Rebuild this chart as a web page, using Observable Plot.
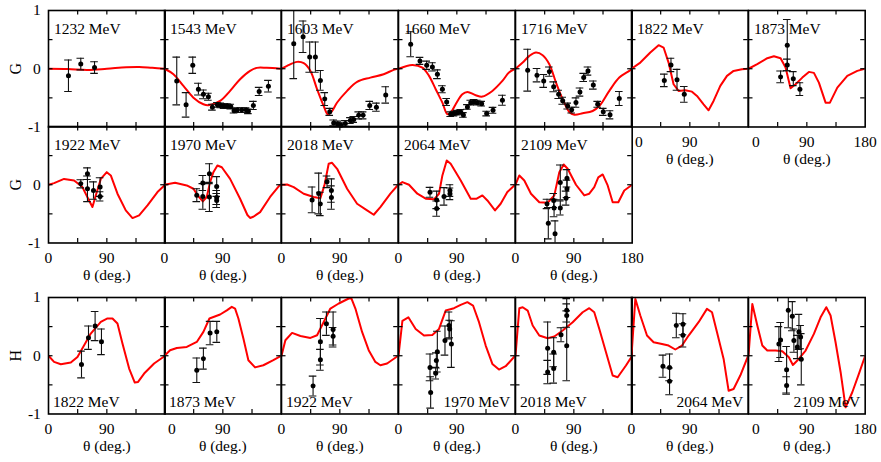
<!DOCTYPE html>
<html><head><meta charset="utf-8">
<script src="https://cdn.jsdelivr.net/npm/d3@7"></script>
<script src="https://cdn.jsdelivr.net/npm/@observablehq/plot@0.6"></script>
<style>
body{margin:0;background:#fff;}
#chart{position:relative;width:881px;height:462px;overflow:hidden;background:#fff;}
#chart svg, #chart svg text{font-family:"Liberation Serif", serif !important;}
</style></head><body><div id="chart"></div>
<script>
// ---- G observable, model curves [theta, G] and data [theta, G, error] ----
const g1232Curve = [[0,0],[30,-0.005],[60,-0.02],[90,0],[120,0.025],[140,0.03],[160,0.015],[180,0]];
const g1232Data = [[30.8,-0.12,0.27],[49.8,0.08,0.1],[71,0.02,0.1]];

const g1543Curve = [[0,0],[13.8,-0.094],[29.2,-0.295],[44.6,-0.496],[60,-0.61],[67.7,-0.627],[85.8,-0.553],[101.2,-0.381],[116.6,-0.18],[132,-0.037],[142.4,0.015],[157.8,0.015],[180,0]];
const g1543Data = [[18.9,-0.21,0.41],[33.3,-0.62,0.21],[43.6,0.06,0.14],[52.3,-0.35,0.1],[60,-0.44,0.075],[67.7,-0.48,0.06],[73.9,-0.66,0.05],[81.6,-0.62,0.04],[86.8,-0.63,0.04],[91.9,-0.64,0.04],[97,-0.64,0.04],[102.2,-0.65,0.04],[107.3,-0.72,0.04],[112.4,-0.71,0.04],[119.2,-0.71,0.04],[125.9,-0.71,0.04],[129.4,-0.73,0.04],[137.1,-0.63,0.07],[146,-0.39,0.07],[160.3,-0.3,0.1]];

const g1603Curve = [[0,0],[8.6,0.05],[24,0.118],[34.3,0.095],[44.6,-0.037],[54.9,-0.352],[65.1,-0.64],[71.3,-0.78],[78,-0.725],[85.8,-0.58],[101.2,-0.38],[116.6,-0.225],[137.1,-0.152],[157.6,-0.094],[173,-0.02],[180,0]];
const g1603Data = [[18.9,0.43,0.6],[33.3,0.55,0.27],[43.5,0.2,0.26],[52.3,0.2,0.26],[60,-0.2,0.17],[66.7,-0.52,0.11],[74.4,-0.74,0.06],[80.5,-0.93,0.05],[86.7,-0.95,0.05],[91.9,-0.97,0.04],[98.5,-0.94,0.05],[106.3,-0.89,0.05],[111.4,-0.87,0.05],[119.1,-0.8,0.06],[125.9,-0.8,0.06],[136.1,-0.63,0.07],[146.4,-0.66,0.07],[160.8,-0.45,0.14]];

const g1660Curve = [[0,0],[21.4,0.066],[36.9,0.02],[47.1,-0.123],[57.4,-0.352],[67.7,-0.582],[75.4,-0.78],[80.5,-0.754],[88.2,-0.61],[98.5,-0.438],[106.3,-0.398],[119.1,-0.455],[129.4,-0.478],[144.8,-0.381],[160.3,-0.209],[170.4,-0.066],[180,0]];
const g1660Data = [[18.8,0.42,0.215],[33.2,0.135,0.06],[43.5,0.06,0.07],[52.3,0.032,0.07],[60,-0.094,0.075],[67.7,-0.352,0.06],[74.3,-0.57,0.06],[80.5,-0.78,0.04],[85.6,-0.77,0.04],[90.8,-0.754,0.04],[96,-0.742,0.04],[100.1,-0.794,0.04],[106.3,-0.656,0.04],[111.4,-0.582,0.04],[116.5,-0.57,0.04],[121.7,-0.582,0.04],[128.3,-0.6,0.04],[136,-0.77,0.04],[145.8,-0.713,0.05],[160.3,-0.541,0.085]];

const g1716Curve = [[0,0],[11.1,0.106],[21.4,0.221],[31.6,0.278],[41.9,0.233],[52.2,0.078],[62.5,-0.238],[72.8,-0.524],[83,-0.742],[90.7,-0.788],[103.6,-0.765],[119,-0.725],[129.3,-0.64],[144.7,-0.38],[160.1,-0.152],[175.5,-0.037],[180,0]];
const g1716Data = [[18.8,-0.025,0.36],[33.2,-0.11,0.115],[43.5,-0.21,0.11],[52.2,-0.05,0.08],[58.9,-0.31,0.085],[66.6,-0.44,0.07],[72.8,-0.55,0.06],[80.5,-0.64,0.05],[86.7,-0.71,0.05],[93.3,-0.58,0.08],[99.5,-0.4,0.07],[105.2,-0.15,0.07],[111.8,-0.04,0.07],[120,-0.28,0.07],[126.8,-0.61,0.05],[135.4,-0.74,0.06],[145.8,-0.79,0.07],[160.1,-0.51,0.12]];

const g1822Curve = [[0,0],[13.6,0.106],[29,0.278],[41.8,0.405],[49.5,0.364],[57.2,0.106],[64.9,-0.266],[72.6,-0.381],[83,-0.37],[93.3,-0.393],[101,-0.467],[111.2,-0.61],[118.9,-0.713],[126.6,-0.553],[137,-0.295],[147.3,-0.123],[157.5,-0.037],[170.4,-0.008],[180,0]];
const g1822Data = [[50.6,-0.2,0.107],[60.9,0.066,0.115],[70.2,-0.19,0.18],[81.4,-0.44,0.135]];

const g1873Curve = [[0,0],[13.5,0.078],[29,0.181],[39.2,0.215],[49.5,0.181],[57.2,0.02],[64.9,-0.335],[72.6,-0.266],[83,-0.152],[93.2,-0.054],[100.9,-0.071],[108.6,-0.238],[118.9,-0.582],[125.6,-0.582],[137,-0.324],[152.4,-0.123],[167.8,-0.037],[180,0]];
const g1873Data = [[49.5,-0.14,0.1],[59.8,0.405,0.44],[59.8,0.066,0.1],[69.1,-0.17,0.12],[79.3,-0.35,0.11]];

const g1922Curve = [[0,0],[8.6,0.028],[24,0.1],[39.5,0.074],[52.3,-0.04],[62.6,-0.27],[67.8,-0.383],[72.9,-0.183],[80.7,0.1],[89.9,0.216],[96.1,0.16],[106.4,-0.154],[119.2,-0.44],[129.6,-0.572],[139.8,-0.526],[152.7,-0.355],[168.1,-0.126],[180,0]];
const g1922Data = [[49.8,0.017,0.07],[60.1,0.19,0.1],[60.1,-0.07,0.22],[69.4,-0.1,0.15],[79.6,-0.04,0.16],[79.6,-0.2,0.08]];

const g1970Curve = [[0,0],[16.3,0.034],[34.3,-0.012],[44.6,-0.069],[52.3,-0.2],[59.1,-0.286],[65.2,-0.21],[70.3,0.045],[75.4,0.216],[81.6,0.33],[88.4,0.3],[101.2,0.1],[116.6,-0.24],[127.9,-0.52],[132,-0.57],[137,-0.55],[147.5,-0.47],[162.9,-0.21],[176.8,-0.02],[180,0]];
const g1970Data = [[49.8,-0.18,0.11],[59.1,0.03,0.13],[59.1,-0.2,0.22],[69.3,0.19,0.17],[69.3,-0.21,0.25],[80.5,-0.03,0.17],[80.5,-0.22,0.12],[80.5,-0.27,0.12]];

const g2018Curve = [[0,0],[8.6,0.005],[18.8,-0.04],[34.2,-0.154],[49.7,-0.21],[60,-0.23],[66.2,-0.01],[72.8,0.36],[78,0.377],[85.8,0.274],[101.2,-0.069],[116.6,-0.326],[132,-0.44],[142.3,-0.515],[152.5,-0.384],[168,-0.154],[180,0]];
const g2018Data = [[47.2,-0.26,0.22],[57.4,-0.15,0.35],[59.9,-0.33,0.2],[70.2,0.05,0.1],[77,-0.1,0.2],[77,-0.22,0.2]];

const g2064Curve = [[0,0],[6,0.045],[16.2,0],[29.1,-0.154],[42,-0.24],[54.8,-0.25],[62.5,-0.154],[67.7,0.16],[74.4,0.417],[80.5,0.36],[96,0.074],[111.4,-0.24],[120.6,-0.24],[129.4,-0.183],[137.1,-0.27],[148.9,-0.44],[157.6,-0.326],[167.9,-0.126],[180,0]];
const g2064Data = [[48.6,-0.13,0.085],[58.9,-0.26,0.15],[58.9,-0.41,0.13],[70.2,-0.2,0.15],[79.4,-0.1,0.1],[79.4,-0.155,0.1]];

const g2109Curve = [[0,0],[5.9,0.16],[13.6,0.074],[23.9,-0.154],[36.7,-0.3],[49.6,-0.309],[59.9,-0.183],[67.6,0.216],[74.3,0.348],[80.5,0.274],[93.3,0],[106.1,-0.183],[113.8,-0.154],[121.5,-0.04],[127.7,0.126],[134.5,0.177],[142.2,-0.012],[149.9,-0.3],[158.6,-0.3],[167.8,-0.098],[180,0]];
const g2109Data = [[48.6,-0.33,0.08],[50.6,-0.66,0.27],[58.9,-0.27,0.12],[59.5,-0.4,0.15],[61,-0.84,0.22],[69.1,0.04,0.3],[69.1,-0.4,0.12],[78,-0.23,0.12],[79.4,-0.07,0.15],[79.4,0.11,0.15]];

// ---- H observable ----
const h1822Curve = [[0,0],[8.6,-0.106],[19,-0.146],[34.4,-0.117],[44.7,-0.02],[55,0.18],[65.2,0.38],[80.7,0.58],[91,0.64],[98.7,0.64],[106.4,0.553],[114.1,0.21],[124.4,-0.22],[133.1,-0.46],[138.2,-0.45],[147.5,-0.306],[162.9,-0.134],[180,0]];
const h1822Data = [[50.9,-0.15,0.23],[61.7,0.31,0.2],[71.9,0.51,0.25],[81.7,0.24,0.22]];

const h1873Curve = [[0,0],[8.6,0.095],[19,0.134],[34.4,0.151],[49.8,0.237],[60,0.409],[69.3,0.64],[85.8,0.708],[96.1,0.78],[103.8,0.84],[108.9,0.81],[114,0.64],[121.7,0.295],[129.4,-0.077],[139.7,-0.2],[152.5,-0.163],[167.9,-0.077],[180,0]];
const h1873Data = [[49.8,-0.25,0.21],[60,-0.05,0.18],[70.3,0.39,0.2],[80.7,0.41,0.18]];

const h1922Curve = [[0,0],[6,0.266],[16.3,0.392],[29.2,0.34],[44.6,0.306],[54.9,0.352],[65.1,0.58],[75.4,0.81],[88.3,0.897],[103.7,0.983],[107.8,0.983],[114,0.81],[124.3,0.409],[134.5,0.095],[144.8,-0.106],[152.5,-0.163],[162.9,-0.134],[180,0]];
const h1922Data = [[48.7,-0.52,0.17],[60,-0.07,0.18],[60,0.24,0.4],[69.3,0.55,0.2],[79.6,0.45,0.3],[79.6,0.335,0.15]];

const h1970Curve = [[0,0],[6,0.6],[15.2,0.66],[26.5,0.46],[39.3,0.346],[52.2,0.357],[62.5,0.46],[72.8,0.776],[85.6,0.816],[95.9,0.873],[106.2,0.92],[115,0.862],[124.2,0.576],[134.5,0.175],[144.8,-0.14],[155,-0.237],[165.3,-0.18],[180,0]];
const h1970Data = [[48.6,-0.2,0.23],[49.6,-0.63,0.27],[57.4,-0.3,0.1],[58.4,-0.08,0.13],[59.9,0.07,0.35],[71.7,0.26,0.25],[77.9,0.52,0.23],[79,0.46,0.15],[81.6,0.2,0.4]];

const h2018Curve = [[0,0],[5.9,0.816],[11.1,0.833],[18.8,0.776],[26.5,0.519],[36.7,0.347],[49.6,0.3],[59.9,0.33],[72.8,0.433],[88.2,0.576],[103.6,0.747],[113.8,0.816],[121.5,0.747],[129.3,0.46],[139.6,0.06],[149.9,-0.34],[157.6,-0.37],[170.4,-0.168],[180,0]];
const h2018Data = [[49.6,0.13,0.45],[49.6,-0.28,0.2],[58.9,0.06,0.25],[58.9,-0.22,0.25],[70.2,0.36,0.12],[79,0.69,0.2],[79,0.78,0.2],[79,0.17,0.6]];

const h2064Curve = [[0,0],[5.9,0.976],[13.6,0.69],[23.9,0.347],[34.1,0.232],[47,0.203],[57.2,0.175],[67.6,0.107],[77.9,0.175],[88.1,0.347],[103.5,0.576],[116.4,0.805],[124.2,0.747],[131.9,0.404],[142.1,-0.055],[149.8,-0.6],[157.5,-0.57],[167.8,-0.34],[180,0]];
const h2064Data = [[48.5,-0.18,0.19],[58.7,-0.2,0.23],[58.7,-0.44,0.23],[69.1,0.52,0.21],[79.4,0.54,0.18],[79.4,0.35,0.2]];

const h2109Curve = [[0,0],[5.9,0.89],[13.6,0.519],[21.3,0.175],[29,0.089],[41.8,0.089],[52.1,0.077],[62.3,-0.026],[68.5,-0.158],[75.3,-0.083],[88.1,0.089],[100.9,0.375],[111.2,0.66],[120,0.833],[126.6,0.69],[134.3,0.232],[142.1,-0.283],[149.8,-0.885],[160.1,-0.627],[170.3,-0.312],[180,0]];
const h2109Data = [[46.9,0.2,0.3],[49.5,0.27,0.3],[58.8,-0.24,0.4],[58.8,-0.51,0.15],[61.4,0.78,0.3],[67.6,0.68,0.25],[70,0.26,0.2],[75.3,0.15,0.2],[77.8,0.41,0.3],[80.4,0.32,0.2],[81.4,-0.06,0.44]];

// ---- labels ----
const row1Energies = ["1232 MeV","1543 MeV","1603 MeV","1660 MeV","1716 MeV","1822 MeV","1873 MeV"];
const row2Energies = ["1922 MeV","1970 MeV","2018 MeV","2064 MeV","2109 MeV"];
const row3Energies = ["1822 MeV","1873 MeV","1922 MeV","1970 MeV","2018 MeV","2064 MeV","2109 MeV"];
const yTicksFull = [1, 0, -1];
const yTicksLower = [0, -1];
const xTicksInner = [0, 90];
const xTicksLast = [0, 90, 180];
const xMinor = [45, 90, 135];
const yMinor = [-0.5, 0, 0.5];
const xTitle = "θ (deg.)";

// ---- layout ----
const FONT = "Liberation Serif";
const FS = 15.5;
const PW = 116.7, PH = 116.5;
const ML = 50, MR = 3, MT = 3, MB = 48;
const colLeft = i => 47.7 + PW * i;
const rowTop = [9.7, 126.2, 297.3];

const row1Curves = [g1232Curve,g1543Curve,g1603Curve,g1660Curve,g1716Curve,g1822Curve,g1873Curve];
const row1Data = [g1232Data,g1543Data,g1603Data,g1660Data,g1716Data,g1822Data,g1873Data];
const row2Curves = [g1922Curve,g1970Curve,g2018Curve,g2064Curve,g2109Curve];
const row2Data = [g1922Data,g1970Data,g2018Data,g2064Data,g2109Data];
const row3Curves = [h1822Curve,h1873Curve,h1922Curve,h1970Curve,h2018Curve,h2064Curve,h2109Curve];
const row3Data = [h1822Data,h1873Data,h1922Data,h1970Data,h2018Data,h2064Data,h2109Data];

const panels = [];
row1Energies.forEach((e, i) => panels.push({
  row: 0, col: i, label: e, curve: row1Curves[i], data: row1Data[i],
  yTicks: i === 0 ? yTicksFull : null, axisName: i === 0 ? "G" : null,
  xTicks: i === 5 ? xTicksInner : i === 6 ? xTicksLast : null, zeroShift: 7.5,
  labelPos: "top-left", curveType: i < 5 ? "catmull-rom" : "linear"
}));
row2Energies.forEach((e, i) => panels.push({
  row: 1, col: i, label: e, curve: row2Curves[i], data: row2Data[i],
  yTicks: i === 0 ? yTicksLower : null, axisName: i === 0 ? "G" : null,
  xTicks: i === 4 ? xTicksLast : xTicksInner, zeroShift: 0,
  labelPos: "top-left", curveType: "linear"
}));
row3Energies.forEach((e, i) => panels.push({
  row: 2, col: i, label: e, curve: row3Curves[i], data: row3Data[i],
  yTicks: i === 0 ? yTicksFull : null, axisName: i === 0 ? "H" : null,
  xTicks: i === 6 ? xTicksLast : xTicksInner, zeroShift: (i === 1 || i === 6) ? 7.5 : 0,
  labelPos: (i === 3 || i === 5 || i === 6) ? "bottom-right" : "bottom-left", curveType: "linear"
}));

const chart = document.getElementById("chart");
const txt = {fontFamily: FONT, fontSize: FS, fill: "black"};

for (const p of panels) {
  const marks = [
    Plot.line(p.curve, {x: d => d[0], y: d => d[1], stroke: "#ff0000", strokeWidth: 2, curve: p.curveType, clip: true}),
    Plot.ruleX(p.data, {x: d => d[0], y1: d => d[1] - d[2], y2: d => d[1] + d[2], stroke: "#111", strokeWidth: 1.1, clip: true}),
    Plot.ruleY(p.data, {y: d => d[1] + d[2], x1: d => d[0], x2: d => d[0], insetLeft: -3.8, insetRight: -3.8, stroke: "#111", strokeWidth: 1.1, clip: true}),
    Plot.ruleY(p.data, {y: d => d[1] - d[2], x1: d => d[0], x2: d => d[0], insetLeft: -3.8, insetRight: -3.8, stroke: "#111", strokeWidth: 1.1, clip: true}),
    Plot.dot(p.data, {x: d => d[0], y: d => d[1], r: 2.5, fill: "black", stroke: "none"}),
    Plot.ruleX(xMinor, {x: d => d, insetBottom: PH - 4.5, stroke: "black", strokeWidth: 1.2}),
    Plot.ruleX(xMinor, {x: d => d, insetTop: PH - 4.5, stroke: "black", strokeWidth: 1.2}),
    Plot.ruleY(yMinor, {y: d => d, insetRight: PW - 4.5, stroke: "black", strokeWidth: 1.2}),
    Plot.ruleY(yMinor, {y: d => d, insetLeft: PW - 4.5, stroke: "black", strokeWidth: 1.2}),
    Plot.frame({stroke: "black", strokeWidth: 1.6})
  ];
  if (p.labelPos === "top-left") {
    marks.push(Plot.text([p.label], {text: d => d, frameAnchor: "top-left", textAnchor: "start", lineAnchor: "top", dx: 5.5, dy: 12.5, ...txt}));
  } else if (p.labelPos === "bottom-left") {
    marks.push(Plot.text([p.label], {text: d => d, frameAnchor: "bottom-left", textAnchor: "start", lineAnchor: "bottom", dx: 4.5, dy: -7, ...txt}));
  } else {
    marks.push(Plot.text([p.label], {text: d => d, frameAnchor: "bottom-right", textAnchor: "end", lineAnchor: "bottom", dx: -5, dy: -7, ...txt}));
  }
  if (p.yTicks) {
    marks.push(Plot.text(p.yTicks, {y: d => d, text: d => d < 0 ? "-" + Math.abs(d) : String(d), frameAnchor: "left", textAnchor: "end", lineAnchor: "middle", dx: -7.7, ...txt}));
  }
  if (p.axisName) {
    marks.push(Plot.text([p.axisName], {text: d => d, frameAnchor: "left", rotate: -90, textAnchor: "middle", lineAnchor: "middle", dx: -32.4, ...txt, fontSize: 16}));
  }
  if (p.xTicks) {
    marks.push(Plot.text(p.xTicks.filter(v => v === 0), {x: d => d, text: d => String(d), frameAnchor: "bottom", textAnchor: "middle", lineAnchor: "top", dy: 8.5, dx: p.zeroShift, ...txt}));
    marks.push(Plot.text(p.xTicks.filter(v => v !== 0), {x: d => d, text: d => String(d), frameAnchor: "bottom", textAnchor: "middle", lineAnchor: "top", dy: 8.5, ...txt}));
    marks.push(Plot.text([xTitle], {text: d => d, frameAnchor: "bottom", textAnchor: "middle", lineAnchor: "top", dy: 26, ...txt}));
  }
  const svg = Plot.plot({
    width: ML + PW + MR, height: MT + PH + MB,
    marginLeft: ML, marginRight: MR, marginTop: MT, marginBottom: MB,
    x: {domain: [0, 180], axis: null},
    y: {domain: [-1, 1], axis: null},
    style: {fontFamily: FONT, fontSize: FS + "px", background: "transparent", overflow: "visible"},
    marks
  });
  svg.style.position = "absolute";
  svg.style.left = (colLeft(p.col) - ML) + "px";
  svg.style.top = (rowTop[p.row] - MT) + "px";
  svg.style.background = "transparent";
  svg.style.maxWidth = "none";
  chart.appendChild(svg);
}
</script></body></html>
